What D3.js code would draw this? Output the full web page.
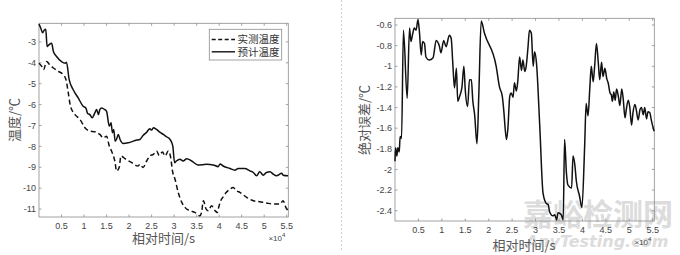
<!DOCTYPE html>
<html>
<head>
<meta charset="utf-8">
<script src="https://cdn.jsdelivr.net/npm/d3@7"></script>
<style>
  body { margin: 0; background: #fff; }
  svg { display: block; }
  .tick-label { font-family: "Liberation Sans", Arial, sans-serif; font-size: 9px; fill: #444; }
  .axis-title { font-family: "Noto Sans CJK SC", sans-serif; font-size: 13px; fill: #555; }
  .legend-text { font-family: "Noto Sans CJK SC", sans-serif; font-size: 10.5px; fill: #333; }
</style>
</head>
<body>
<script>
// time in units of 1e4 s
const predictT = [0,0.04,0.08,0.12,0.15,0.18,0.22,0.28,0.32,0.39,0.50,0.58,0.61,0.67,0.76,0.87,0.98,1.04,1.08,1.13,1.18,1.24,1.28,1.32,1.35,1.39,1.46,1.50,1.56,1.60,1.63,1.66,1.69,1.72,1.76,1.80,1.87,1.98,2.17,2.24,2.31,2.39,2.46,2.50,2.54,2.61,2.68,2.76,2.83,2.91,2.97,3.01,3.05,3.13,3.20,3.28,3.39,3.53,3.72,3.87,3.98,4.02,4.09,4.24,4.35,4.42,4.57,4.68,4.76,4.83,4.90,4.98,5.05,5.13,5.20,5.27,5.39,5.42,5.53];
const predictV = [-2.14,-2.35,-2.56,-2.43,-2.40,-3.22,-3.14,-3.06,-3.46,-3.70,-3.94,-4.02,-3.98,-4.81,-5.29,-5.68,-6.08,-6.16,-6.43,-6.48,-6.63,-6.40,-6.24,-6.48,-6.24,-6.16,-6.24,-6.32,-7.03,-6.87,-7.35,-7.19,-7.75,-7.67,-7.43,-7.67,-7.86,-7.83,-7.70,-7.67,-7.48,-7.32,-7.16,-7.22,-7.11,-7.19,-7.32,-7.43,-7.54,-7.67,-7.98,-8.78,-8.70,-8.62,-8.70,-8.59,-8.70,-8.89,-8.86,-8.89,-8.97,-8.84,-8.94,-9.06,-9.14,-9.06,-9.06,-9.17,-9.25,-9.41,-9.22,-9.38,-9.25,-9.22,-9.33,-9.41,-9.29,-9.38,-9.41];

const measureT = [0,0.06,0.10,0.17,0.24,0.32,0.43,0.54,0.60,0.65,0.70,0.80,0.91,1.02,1.13,1.24,1.35,1.43,1.50,1.56,1.61,1.69,1.72,1.78,1.82,1.91,2.06,2.20,2.24,2.31,2.39,2.46,2.54,2.61,2.67,2.74,2.80,2.87,2.92,2.97,3.02,3.09,3.17,3.24,3.35,3.46,3.57,3.61,3.65,3.71,3.76,3.83,3.91,3.96,3.98,4.02,4.08,4.16,4.24,4.31,4.39,4.46,4.61,4.76,4.90,5.05,5.20,5.35,5.42,5.48,5.53];
const measureV = [-4.02,-4.17,-4.33,-3.94,-4.10,-4.25,-4.41,-4.57,-4.81,-5.44,-6.08,-6.48,-6.71,-7.11,-7.27,-7.30,-7.43,-7.59,-7.51,-7.98,-8.22,-8.78,-9.18,-9.01,-8.46,-8.59,-8.78,-8.94,-8.86,-9.01,-8.70,-8.46,-8.38,-8.22,-8.43,-8.27,-8.46,-8.22,-8.49,-9.25,-9.57,-10.2,-10.68,-10.92,-11.08,-11.16,-11.32,-11.16,-10.6,-11.0,-11.08,-10.84,-11.08,-11.16,-11.0,-10.68,-10.44,-10.2,-10.05,-9.97,-10.13,-10.2,-10.44,-10.6,-10.65,-10.71,-10.76,-10.76,-10.6,-10.92,-11.08];

const errT = [0,0.01,0.04,0.06,0.09,0.11,0.14,0.18,0.26,0.31,0.34,0.38,0.41,0.45,0.49,0.52,0.56,0.59,0.63,0.66,0.73,0.81,0.88,0.95,0.98,1.04,1.09,1.16,1.20,1.23,1.27,1.31,1.34,1.38,1.43,1.47,1.50,1.55,1.59,1.63,1.66,1.70,1.75,1.79,1.84,1.91,2.16,2.23,2.29,2.32,2.38,2.41,2.45,2.48,2.52,2.55,2.59,2.62,2.66,2.70,2.73,2.77,2.80,2.84,2.87,2.91,2.95,2.98,3.02,3.09,3.16,3.23,3.27,3.30,3.37,3.41,3.45,3.48,3.55,3.59,3.62,3.66,3.69,3.77,3.80,3.84,3.87,3.94,3.99,4.05,4.08,4.12,4.16,4.19,4.23,4.26,4.30,4.34,4.37,4.41,4.44,4.48,4.52,4.55,4.59,4.62,4.64,4.67,4.70,4.73,4.77,4.80,4.84,4.87,4.91,4.94,4.98,5.01,5.05,5.08,5.12,5.15,5.19,5.23,5.26,5.30,5.33,5.37,5.40,5.44,5.47,5.53];
const errV = [-1.92,-1.79,-1.87,-1.79,-1.83,-1.68,-1.70,-0.65,-1.31,-0.63,-0.76,-0.68,-0.63,-0.65,-0.55,-0.66,-0.89,-0.76,-0.78,-0.91,-0.94,-0.92,-0.75,-0.81,-0.87,-0.75,-0.81,-0.70,-0.73,-0.94,-1.21,-1.02,-1.34,-1.29,-1.20,-1.00,-1.23,-1.39,-1.13,-1.13,-1.33,-1.47,-1.75,-1.26,-0.56,-0.68,-1.00,-1.20,-1.29,-1.42,-1.71,-1.60,-1.29,-1.26,-1.30,-1.16,-1.24,-1.15,-0.91,-1.04,-0.94,-1.05,-1.00,-0.81,-0.65,-0.68,-1.00,-0.86,-0.97,-1.58,-2.23,-2.33,-2.34,-2.41,-2.45,-2.44,-2.49,-2.42,-2.44,-2.49,-1.71,-2.04,-2.15,-2.18,-1.87,-1.96,-2.11,-2.26,-2.37,-1.75,-1.36,-1.48,-1.20,-1.00,-1.15,-1.01,-0.78,-0.97,-1.13,-0.96,-1.10,-1.02,-1.12,-1.16,-1.26,-1.28,-1.34,-1.25,-1.33,-1.22,-1.30,-1.38,-1.22,-1.31,-1.50,-1.41,-1.33,-1.39,-1.57,-1.45,-1.37,-1.42,-1.52,-1.42,-1.40,-1.47,-1.40,-1.51,-1.44,-1.45,-1.52,-1.63];

const xTicks = [0.5,1,1.5,2,2.5,3,3.5,4,4.5,5,5.5];
const tempTicks = [-3,-4,-5,-6,-7,-8,-9,-10,-11];
const errTicks = [-0.6,-0.8,-1,-1.2,-1.4,-1.6,-1.8,-2,-2.2,-2.4];
const legendNames = ['实测温度', '预计温度'];

const svg = d3.select('body').append('svg')
    .attr('width', 680)
    .attr('height', 255);

// watermark first so it sits behind everything
svg.append('text')
    .attr('x', 598).attr('y', 225)
    .attr('text-anchor', 'middle')
    .style('font-family', '"Noto Sans CJK SC", sans-serif')
    .style('font-size', '30px')
    .style('font-weight', 'bold')
    .style('fill', '#dcdcdc')
    .text('嘉峪检测网');
svg.append('text')
    .attr('x', 597).attr('y', 247)
    .attr('text-anchor', 'middle')
    .style('font-family', '"DejaVu Sans", sans-serif')
    .style('font-size', '16px')
    .style('font-weight', 'bold')
    .style('font-style', 'italic')
    .style('fill', '#dcdcdc')
    .text('AnyTesting.com');

// draws a MATLAB style box axis with inward ticks on all four sides
function drawFrame(x, y, xt, yt) {
    let g = svg.append('g');
    let [x0, x1] = x.range();
    let [y0, y1] = y.range(); // y0 bottom, y1 top
    let tl = 2.5;

    g.append('rect')
        .attr('x', x0).attr('y', y1)
        .attr('width', x1 - x0).attr('height', y0 - y1)
        .style('fill', 'none')
        .style('stroke', '#8c8c8c')
        .style('stroke-width', 0.8);

    xt.forEach(t => {
        let px = x(t);
        g.append('line').attr('x1', px).attr('x2', px).attr('y1', y0).attr('y2', y0 - tl)
            .style('stroke', '#8c8c8c').style('stroke-width', 0.8);
        g.append('line').attr('x1', px).attr('x2', px).attr('y1', y1).attr('y2', y1 + tl)
            .style('stroke', '#8c8c8c').style('stroke-width', 0.8);
        g.append('text').classed('tick-label', true)
            .attr('x', px).attr('y', y0 + 11.5)
            .attr('text-anchor', 'middle')
            .text(t);
    });

    yt.forEach(t => {
        let py = y(t);
        g.append('line').attr('x1', x0).attr('x2', x0 + tl).attr('y1', py).attr('y2', py)
            .style('stroke', '#8c8c8c').style('stroke-width', 0.8);
        g.append('line').attr('x1', x1).attr('x2', x1 - tl).attr('y1', py).attr('y2', py)
            .style('stroke', '#8c8c8c').style('stroke-width', 0.8);
        g.append('text').classed('tick-label', true)
            .attr('x', x0 - 3).attr('y', py + 3.2)
            .attr('text-anchor', 'end')
            .text(t);
    });

    // x10^4 exponent label
    let ex = g.append('text').classed('tick-label', true)
        .attr('x', x1 - 3).attr('y', y0 + 24)
        .attr('text-anchor', 'end')
        .style('font-size', '8px');
    ex.append('tspan').text('×10');
    ex.append('tspan').attr('dy', -4).style('font-size', '6px').text('4');
}

// ---------- left chart ----------
let xL = d3.scaleLinear().domain([0, 5.535]).range([39, 288.3]);
let yL = d3.scaleLinear().domain([-11.38, -2.11]).range([217, 23.3]);

drawFrame(xL, yL, xTicks, tempTicks);

let lineL = d3.line()
    .x(d => xL(d[0]))
    .y(d => yL(d[1]))
    .curve(d3.curveMonotoneX);

svg.append('path')
    .datum(measureT.map((t, i) => [t, measureV[i]]))
    .attr('d', lineL)
    .style('fill', 'none')
    .style('stroke', '#111')
    .style('stroke-width', 1.5)
    .style('stroke-dasharray', '5,3');

svg.append('path')
    .datum(predictT.map((t, i) => [t, predictV[i]]))
    .attr('d', lineL)
    .style('fill', 'none')
    .style('stroke', '#111')
    .style('stroke-width', 1.5);

svg.append('text').classed('axis-title', true)
    .attr('x', 163.6).attr('y', 243)
    .attr('text-anchor', 'middle')
    .text('相对时间/s');

svg.append('text').classed('axis-title', true)
    .attr('transform', 'translate(19,120) rotate(-90)')
    .attr('text-anchor', 'middle')
    .text('温度/℃');

// legend
let lg = svg.append('g');
lg.append('rect')
    .attr('x', 209.3).attr('y', 29.3)
    .attr('width', 72.4).attr('height', 30.7)
    .style('fill', '#fff')
    .style('stroke', '#8c8c8c')
    .style('stroke-width', 0.8);
legendNames.forEach((name, i) => {
    let ly = 39.5 + i * 12.3;
    lg.append('line')
        .attr('x1', 211.7).attr('x2', 235)
        .attr('y1', ly).attr('y2', ly)
        .style('stroke', '#111')
        .style('stroke-width', 1.4)
        .style('stroke-dasharray', i === 0 ? '4,2.5' : null);
    lg.append('text').classed('legend-text', true)
        .attr('x', 237.5).attr('y', ly + 3.8)
        .text(name);
});

// ---------- separator ----------
svg.append('line')
    .attr('x1', 341.5).attr('x2', 341.5)
    .attr('y1', 0).attr('y2', 252)
    .style('stroke', '#cfcfcf')
    .style('stroke-width', 1)
    .style('stroke-dasharray', '2,2');

// ---------- right chart ----------
let xR = d3.scaleLinear().domain([0, 5.535]).range([395, 654.3]);
let yR = d3.scaleLinear().domain([-2.5, -0.535]).range([221, 18.3]);

drawFrame(xR, yR, xTicks, errTicks);

let lineR = d3.line()
    .x(d => xR(d[0]))
    .y(d => yR(d[1]))
    .curve(d3.curveMonotoneX);

svg.append('path')
    .datum(errT.map((t, i) => [t, errV[i]]))
    .attr('d', lineR)
    .style('fill', 'none')
    .style('stroke', '#111')
    .style('stroke-width', 1.5);

svg.append('text').classed('axis-title', true)
    .attr('x', 524).attr('y', 250)
    .attr('text-anchor', 'middle')
    .text('相对时间/s');

svg.append('text').classed('axis-title', true)
    .attr('transform', 'translate(369,120) rotate(-90)')
    .attr('text-anchor', 'middle')
    .text('绝对误差/℃');
</script>
</body>
</html>
